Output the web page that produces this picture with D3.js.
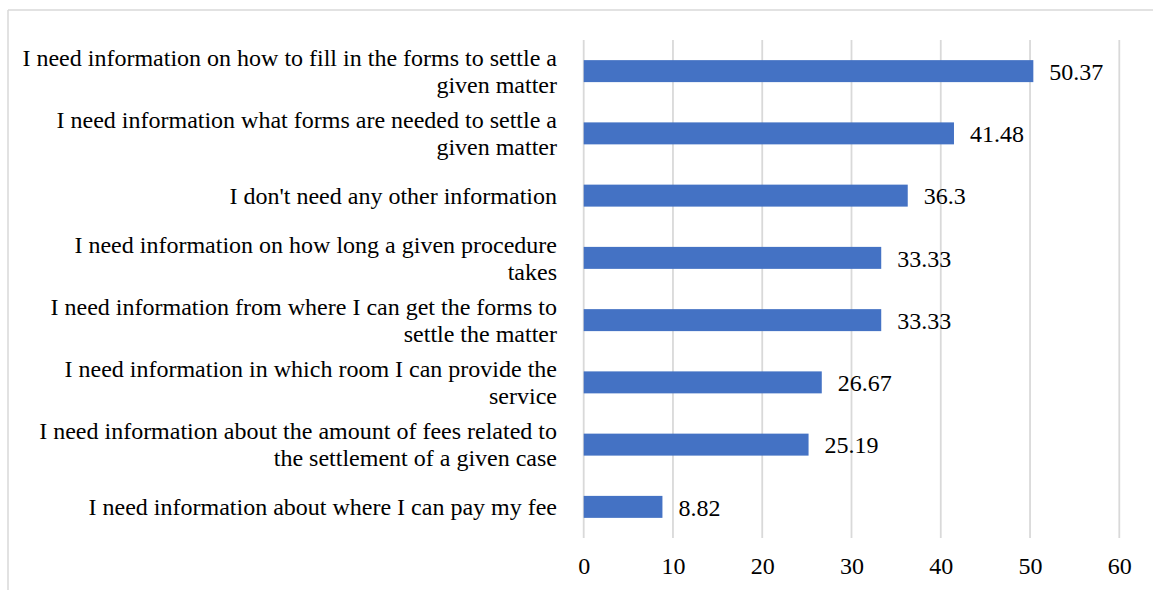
<!DOCTYPE html>
<html>
<head>
<meta charset="utf-8">
<script src="https://cdn.jsdelivr.net/npm/d3@7"></script>
<style>
  html, body { margin: 0; padding: 0; background: #fff; }
  svg { display: block; }
</style>
</head>
<body>
<svg id="chart" width="1153" height="590" font-family="Liberation Serif" font-size="24"></svg>
<script>
const categories = [
  "I need information on how to fill in the forms to settle a\ngiven matter",
  "I need information what forms are needed to settle a\ngiven matter",
  "I don't need any other information",
  "I need information on how long a given procedure\ntakes",
  "I need information from where I can get the forms to\nsettle the matter",
  "I need information in which room I can provide the\nservice",
  "I need information about the amount of fees related to\nthe settlement of a given case",
  "I need information about where I can pay my fee"
];
const values = [50.37, 41.48, 36.3, 33.33, 33.33, 26.67, 25.19, 8.82];
const valueLabels = ["50.37", "41.48", "36.3", "33.33", "33.33", "26.67", "25.19", "8.82"];
const xTicks = [0, 10, 20, 30, 40, 50, 60];

const FONT = "Liberation Serif";
const svg = d3.select("#chart");
const W = 1153, H = 590;
const plot = { left: 583.7, right: 1119.3, top: 40, bottom: 538 };
const fontSize = 24;

// outer border (top and left visible)
svg.append("line").attr("x1", 8).attr("x2", W).attr("y1", 10).attr("y2", 10)
  .attr("stroke", "#d9d9d9").attr("stroke-width", 1.5);
svg.append("line").attr("x1", 8).attr("x2", 8).attr("y1", 10).attr("y2", H)
  .attr("stroke", "#d9d9d9").attr("stroke-width", 1.5);

const x = d3.scaleLinear().domain([0, 60]).range([plot.left, plot.right]);
const y = d3.scaleBand().domain(d3.range(categories.length))
  .range([plot.top, plot.bottom]).paddingInner(0.647).paddingOuter(0.3235);

// gridlines
svg.append("g").selectAll("line").data(xTicks).join("line")
  .attr("x1", d => x(d)).attr("x2", d => x(d))
  .attr("y1", plot.top).attr("y2", plot.bottom)
  .attr("stroke", "#d9d9d9").attr("stroke-width", 1.8);

// x axis tick labels
const xAxis = d3.axisBottom(x).tickValues(xTicks).tickSize(0).tickPadding(0);
const gx = svg.append("g").attr("transform", `translate(0,${plot.bottom})`).call(xAxis);
gx.attr("font-family", FONT).attr("font-size", fontSize);
gx.select(".domain").remove();
gx.selectAll("text")
  .attr("y", 36).attr("dy", 0)
  .attr("font-family", FONT)
  .attr("font-size", fontSize).attr("fill", "#000");

// bars
svg.append("g").selectAll("rect").data(values).join("rect")
  .attr("x", x(0)).attr("y", (d, i) => y(i))
  .attr("width", d => x(d) - x(0)).attr("height", y.bandwidth())
  .attr("fill", "#4472C4");

// value labels
svg.append("g").selectAll("text").data(values).join("text")
  .attr("x", d => x(d) + 16)
  .attr("y", (d, i) => y(i) + y.bandwidth() / 2)
  .attr("dy", "0.36em")
  .attr("font-family", FONT)
  .attr("font-size", fontSize)
  .attr("fill", "#000")
  .text((d, i) => valueLabels[i]);

// category labels
const lineH = 27;
const gl = svg.append("g");
categories.forEach((c, i) => {
  const lines = c.split("\n");
  const cy = y(i) + y.bandwidth() / 2;
  const t = gl.append("text")
    .attr("text-anchor", "end")
    .attr("font-family", FONT)
    .attr("font-size", fontSize)
    .attr("fill", "#000");
  lines.forEach((ln, j) => {
    t.append("tspan")
      .attr("x", 557)
      .attr("y", cy + (j - (lines.length - 1) / 2) * lineH)
      .attr("dy", "0.34em")
      .text(ln);
  });
});
</script>
</body>
</html>
